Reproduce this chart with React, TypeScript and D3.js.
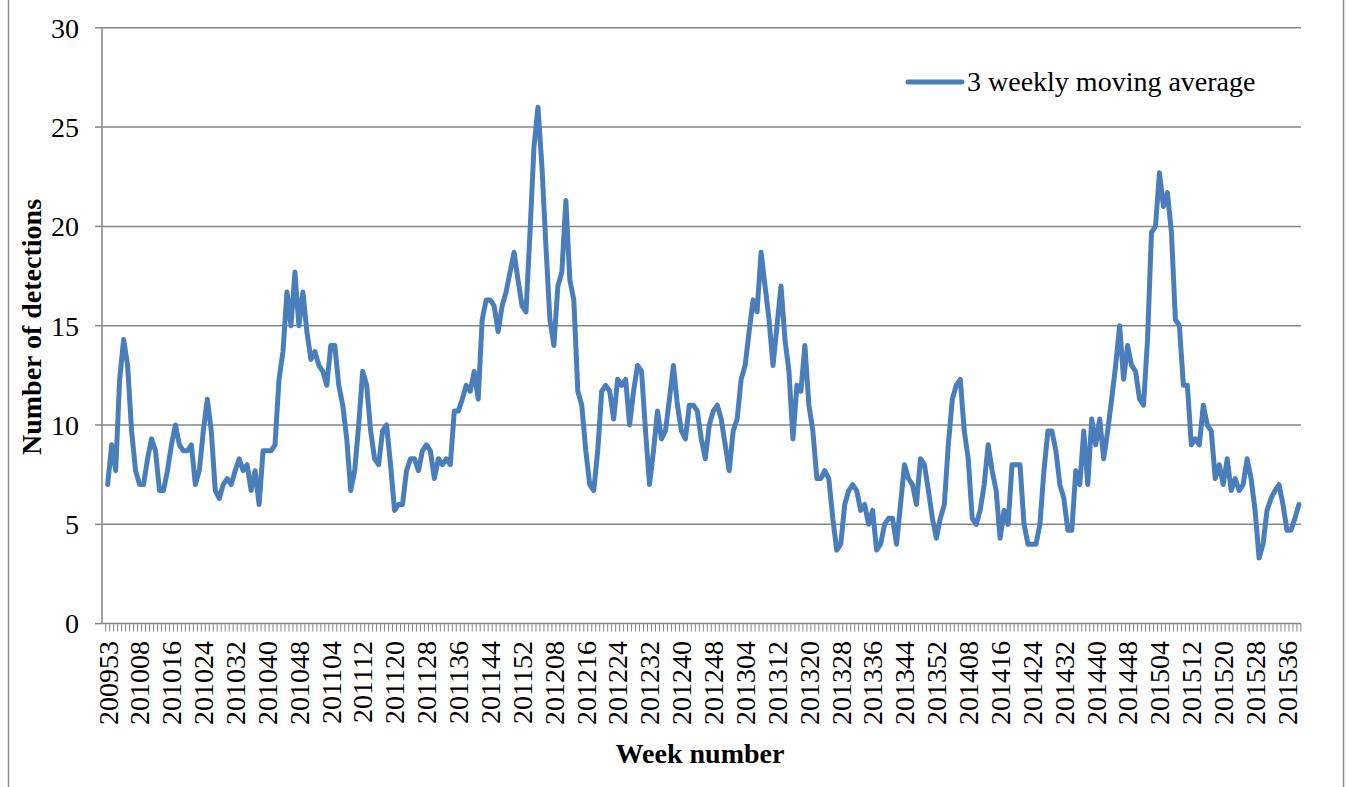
import React, { useRef, useEffect } from 'react';
import * as d3 from 'd3';

// year, first week, last week shown on the category axis
const yearWeeks: [number, number, number][] = [
  [2009, 53, 53],
  [2010, 1, 52],
  [2011, 1, 52],
  [2012, 1, 52],
  [2013, 1, 52],
  [2014, 1, 52],
  [2015, 1, 39],
];

const weeks: string[] = yearWeeks.flatMap(([yr, a, b]) =>
  d3.range(a, b + 1).map((w) => `${yr}${String(w).padStart(2, '0')}`)
);

// 3 weekly moving average, one value per week (200953 .. 201539)
const movingAverage: number[] = [
  7.0, 9.0, 7.7, 12.3, 14.3, 13.0, 9.7, 7.7, 7.0, 7.0,
  8.3, 9.3, 8.7, 6.7, 6.7, 7.7, 9.0, 10.0, 9.0, 8.7,
  8.7, 9.0, 7.0, 7.7, 9.7, 11.3, 9.7, 6.7, 6.3, 7.0,
  7.3, 7.0, 7.7, 8.3, 7.7, 8.0, 6.7, 7.7, 6.0, 8.7,
  8.7, 8.7, 9.0, 12.3, 13.7, 16.7, 15.0, 17.7, 15.0, 16.7,
  14.7, 13.3, 13.7, 13.0, 12.7, 12.0, 14.0, 14.0, 12.0, 11.0,
  9.3, 6.7, 7.7, 10.0, 12.7, 12.0, 9.7, 8.3, 8.0, 9.7,
  10.0, 8.0, 5.7, 6.0, 6.0, 7.7, 8.3, 8.3, 7.7, 8.7,
  9.0, 8.7, 7.3, 8.3, 8.0, 8.3, 8.0, 10.7, 10.7, 11.3,
  12.0, 11.7, 12.7, 11.3, 15.3, 16.3, 16.3, 16.0, 14.7, 16.0,
  16.7, 17.7, 18.7, 17.3, 16.0, 15.7, 19.7, 24.0, 26.0, 23.0,
  19.0, 15.3, 14.0, 17.0, 17.7, 21.3, 17.3, 16.3, 11.7, 11.0,
  8.7, 7.0, 6.7, 8.7, 11.7, 12.0, 11.7, 10.3, 12.3, 12.0,
  12.3, 10.0, 11.7, 13.0, 12.7, 9.7, 7.0, 8.7, 10.7, 9.3,
  9.7, 11.3, 13.0, 11.0, 9.7, 9.3, 11.0, 11.0, 10.7, 9.3,
  8.3, 10.0, 10.7, 11.0, 10.3, 9.0, 7.7, 9.7, 10.3, 12.3,
  13.0, 14.7, 16.3, 15.7, 18.7, 17.0, 15.3, 13.0, 15.0, 17.0,
  14.3, 12.7, 9.3, 12.0, 11.7, 14.0, 11.0, 9.7, 7.3, 7.3,
  7.7, 7.3, 5.3, 3.7, 4.0, 6.0, 6.7, 7.0, 6.7, 5.7,
  6.0, 5.0, 5.7, 3.7, 4.0, 5.0, 5.3, 5.3, 4.0, 6.0,
  8.0, 7.3, 7.0, 6.0, 8.3, 8.0, 6.7, 5.3, 4.3, 5.3,
  6.0, 9.0, 11.3, 12.0, 12.3, 9.7, 8.3, 5.3, 5.0, 5.7,
  7.0, 9.0, 7.7, 6.7, 4.3, 5.7, 5.0, 8.0, 8.0, 8.0,
  5.0, 4.0, 4.0, 4.0, 5.0, 7.7, 9.7, 9.7, 8.7, 7.0,
  6.3, 4.7, 4.7, 7.7, 7.0, 9.7, 7.0, 10.3, 9.0, 10.3,
  8.3, 9.7, 11.3, 13.0, 15.0, 12.3, 14.0, 13.0, 12.7, 11.3,
  11.0, 14.3, 19.7, 20.0, 22.7, 21.0, 21.7, 19.7, 15.3, 15.0,
  12.0, 12.0, 9.0, 9.3, 9.0, 11.0, 10.0, 9.7, 7.3, 8.0,
  7.0, 8.3, 6.7, 7.3, 6.7, 7.0, 8.3, 7.3, 5.7, 3.3,
  4.0, 5.7, 6.3, 6.7, 7.0, 6.0, 4.7, 4.7, 5.3, 6.0,
];

const yTicks = [0, 5, 10, 15, 20, 25, 30];
const labelEvery = 8;
const seriesName = '3 weekly moving average';
const xTitle = 'Week number';
const yTitle = 'Number of detections';

const App = () => {
  const svgRef = useRef<SVGSVGElement>(null);
  const width = 1347;
  const height = 787;

  useEffect(() => {
    const svg = d3.select(svgRef.current);
    svg.selectAll('*').remove();

    const font = '"Liberation Serif", "Times New Roman", serif';
    const gray = '#868686';
    const blue = '#4A7EBB';
    const left = 102;
    const right = 1301;
    const top = 27.8;
    const bottom = 623.6;

    const x = d3.scaleBand().domain(weeks).range([105.7, 1300.9]);
    const y = d3.scaleLinear().domain([0, 30]).range([bottom, top]);
    const cx = (w: string) => (x(w) as number) + x.bandwidth() / 2;

    // chart frame
    svg.append('line').attr('x1', 8.5).attr('x2', 8.5).attr('y1', 0).attr('y2', height)
      .attr('stroke', '#8c8c8c').attr('stroke-width', 1.5);
    svg.append('line').attr('x1', 1343.5).attr('x2', 1343.5).attr('y1', 0).attr('y2', height)
      .attr('stroke', '#8c8c8c').attr('stroke-width', 1.5);

    // gridlines
    svg.append('g')
      .selectAll('line')
      .data(yTicks.filter((t) => t > 0))
      .join('line')
      .attr('x1', left).attr('x2', right)
      .attr('y1', (d) => y(d)).attr('y2', (d) => y(d))
      .attr('stroke', gray).attr('stroke-width', 1.5);

    // y axis
    const yAxis = svg.append('g');
    yAxis.append('line').attr('x1', left).attr('x2', left).attr('y1', top).attr('y2', bottom)
      .attr('stroke', gray).attr('stroke-width', 1.5);
    yAxis.selectAll('.ytick')
      .data(yTicks)
      .join('line')
      .attr('class', 'ytick')
      .attr('x1', left - 7).attr('x2', left)
      .attr('y1', (d) => y(d)).attr('y2', (d) => y(d))
      .attr('stroke', gray).attr('stroke-width', 1.5);
    yAxis.selectAll('text')
      .data(yTicks)
      .join('text')
      .attr('x', 79)
      .attr('y', (d) => y(d))
      .attr('dy', '0.35em')
      .attr('text-anchor', 'end')
      .attr('font-family', font)
      .attr('font-size', 28)
      .attr('fill', '#000')
      .text((d) => d);

    // x axis with a tick between every category
    const xAxis = svg.append('g');
    xAxis.append('line').attr('x1', left).attr('x2', right).attr('y1', bottom).attr('y2', bottom)
      .attr('stroke', gray).attr('stroke-width', 1.5);
    xAxis.selectAll('.xtick')
      .data(weeks)
      .join('line')
      .attr('class', 'xtick')
      .attr('x1', (d) => x(d) as number).attr('x2', (d) => x(d) as number)
      .attr('y1', bottom).attr('y2', bottom + 8)
      .attr('stroke', gray).attr('stroke-width', 1);
    xAxis.append('line')
      .attr('x1', 1300.9).attr('x2', 1300.9).attr('y1', bottom).attr('y2', bottom + 8)
      .attr('stroke', gray).attr('stroke-width', 1);
    xAxis.selectAll('text')
      .data(weeks.filter((_, i) => i % labelEvery === 0))
      .join('text')
      .attr('transform', (d) => `translate(${cx(d)},641) rotate(-90)`)
      .attr('dy', '0.35em')
      .attr('text-anchor', 'end')
      .attr('font-family', font)
      .attr('font-size', 28)
      .attr('fill', '#000')
      .text((d) => d);

    // series
    const line = d3.line<number>()
      .x((_, i) => cx(weeks[i]))
      .y((d) => y(d));
    svg.append('path')
      .datum(movingAverage)
      .attr('d', line)
      .attr('fill', 'none')
      .attr('stroke', blue)
      .attr('stroke-width', 5)
      .attr('stroke-linejoin', 'round')
      .attr('stroke-linecap', 'round');

    // legend
    svg.append('line').attr('x1', 908).attr('x2', 962).attr('y1', 82).attr('y2', 82)
      .attr('stroke', blue).attr('stroke-width', 5).attr('stroke-linecap', 'round');
    svg.append('text').attr('x', 967).attr('y', 91)
      .attr('font-family', font).attr('font-size', 28).attr('fill', '#000')
      .text(seriesName);

    // axis titles
    svg.append('text')
      .attr('x', 700).attr('y', 763)
      .attr('text-anchor', 'middle')
      .attr('font-family', font).attr('font-size', 28).attr('font-weight', 'bold')
      .text(xTitle);
    svg.append('text')
      .attr('transform', 'translate(41,327) rotate(-90)')
      .attr('text-anchor', 'middle')
      .attr('font-family', font).attr('font-size', 28).attr('font-weight', 'bold')
      .text(yTitle);
  }, []);

  return (
    <div>
      <svg
        ref={svgRef}
        width={width}
        height={height}
        style={{ position: 'absolute', left: 0, top: 0, background: '#fff' }}
      ></svg>
    </div>
  );
};

export default App;
